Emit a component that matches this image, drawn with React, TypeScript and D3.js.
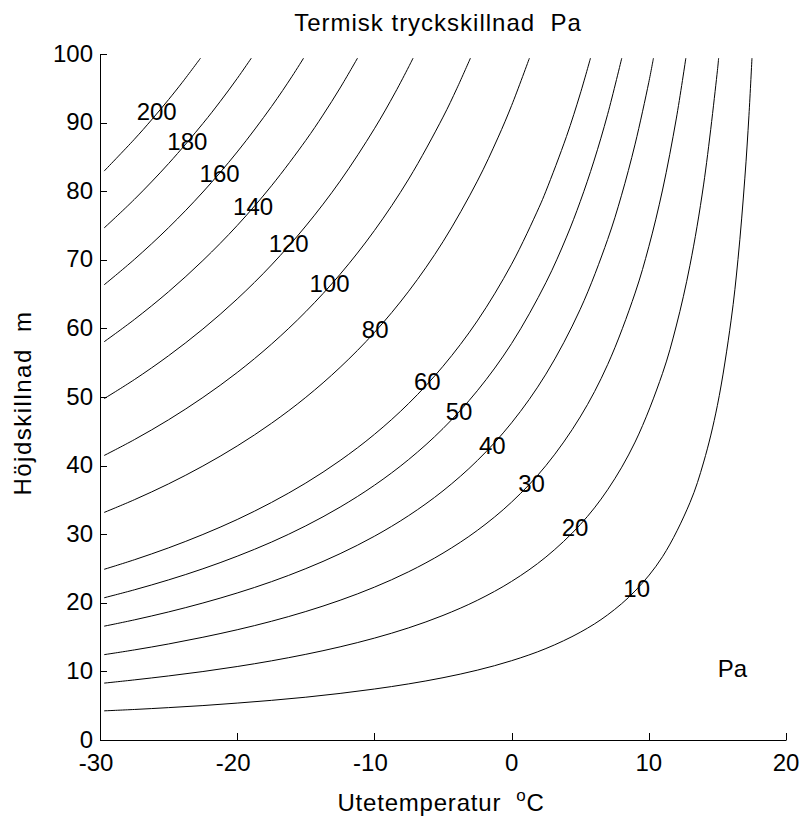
import React from "react";
import * as d3 from "d3";

const levels = [10, 20, 30, 40, 50, 60, 80, 100, 120, 140, 160, 180, 200];

const contour10 = [[-29.7,4.25],[-27.5,4.45],[-25,4.72],[-22.5,5.02],[-20,5.38],[-17.5,5.78],[-15,6.24],[-12.5,6.79],[-10,7.43],[-7.5,8.18],[-5,9.08],[-2.5,10.18],[0,11.56],[2.5,13.33],[5,15.7],[7,18.24],[9,21.72],[11,26.72],[13,34.6],[14,40.52],[15,48.78],[16,61.2],[16.5,70.05],[17,81.9],[17.3,91.07],[17.52,99.4]];
const contour20 = [[-29.7,8.29],[-27.5,8.76],[-25,9.34],[-22.5,9.98],[-20,10.71],[-17.5,11.54],[-15,12.49],[-12.5,13.58],[-10,14.85],[-7.5,16.35],[-5,18.16],[-2.5,20.36],[0,23.12],[2.5,26.67],[5,31.39],[7,36.48],[9,43.43],[11,53.45],[12,60.35],[13,69.2],[14,81.04],[15,97.56],[15.09,99.4]];
const contour30 = [[-29.7,12.44],[-27.5,13.13],[-25,14.0],[-22.5,14.98],[-20,16.07],[-17.5,17.31],[-15,18.73],[-12.5,20.37],[-10,22.28],[-7.5,24.53],[-5,27.24],[-2.5,30.55],[0,34.68],[2.5,40.0],[5,47.09],[7,54.72],[9,65.15],[10,71.91],[11,80.17],[12,90.53],[12.7,99.4]];
const contour40 = [[-29.7,16.59],[-27.5,17.51],[-25,18.67],[-22.5,19.97],[-20,21.43],[-17.5,23.08],[-15,24.98],[-12.5,27.16],[-10,29.7],[-7.5,32.71],[-5,36.32],[-2.5,40.73],[0,46.24],[2.5,53.33],[5,62.78],[7,72.96],[8,79.33],[9,86.86],[10,95.88],[10.34,99.4]];
const contour50 = [[-29.7,20.73],[-27.5,21.89],[-25,23.34],[-22.5,24.96],[-20,26.79],[-17.5,28.85],[-15,31.22],[-12.5,33.95],[-10,37.13],[-7.5,40.89],[-5,45.4],[-2.5,50.91],[0,57.8],[2.5,66.67],[4,73.31],[5,78.48],[6,84.39],[7,91.21],[8.03,99.4]];
const contour60 = [[-29.7,24.88],[-27.5,26.27],[-25,28.01],[-22.5,29.96],[-20,32.14],[-17.5,34.63],[-15,37.46],[-12.5,40.74],[-10,44.55],[-7.5,49.06],[-5,54.48],[-2.5,61.09],[0,69.36],[2,77.64],[2.5,80.0],[4,87.98],[5,94.18],[5.75,99.4]];
const contour80 = [[-29.7,33.17],[-27.5,35.02],[-25,37.34],[-22.5,39.94],[-20,42.86],[-17.5,46.17],[-15,49.95],[-12.5,54.32],[-10,59.4],[-7.5,65.42],[-5,72.64],[-2.5,81.46],[-1,87.77],[0,92.49],[1.3,99.4]];
const contour100 = [[-29.7,41.47],[-27.5,43.78],[-25,46.68],[-22.5,49.93],[-20,53.57],[-17.5,57.71],[-15,62.44],[-12.5,67.89],[-10,74.26],[-7.5,81.77],[-5,90.8],[-4,94.93],[-3.0,99.4]];
const contour120 = [[-29.7,49.76],[-27.5,52.53],[-25,56.02],[-22.5,59.91],[-20,64.29],[-17.5,69.25],[-15,74.93],[-12.5,81.47],[-10,89.11],[-8.5,94.33],[-7.5,98.13],[-7.18,99.4]];
const contour140 = [[-29.7,58.05],[-27.5,61.29],[-25,65.35],[-22.5,69.9],[-20,75.0],[-17.5,80.79],[-15,87.41],[-13.75,91.09],[-12.5,95.05],[-11.23,99.4]];
const contour160 = [[-29.7,66.35],[-27.5,70.05],[-25,74.69],[-22.5,79.88],[-20,85.72],[-17.5,92.34],[-16,96.75],[-15.16,99.4]];
const contour180 = [[-29.7,74.64],[-27.5,78.8],[-25,84.03],[-22.5,89.87],[-21.25,93.05],[-20,96.43],[-18.97,99.4]];
const contour200 = [[-29.7,82.93],[-27.5,87.56],[-26.25,90.38],[-25,93.36],[-24,95.87],[-22.67,99.4]];

const contours = [contour10, contour20, contour30, contour40, contour50, contour60, contour80, contour100, contour120, contour140, contour160, contour180, contour200];

// label positions [x, y] for each level
const labelPos = [[9.12,22.11],[4.62,30.99],[1.46,37.41],[-1.41,42.99],[-3.83,47.9],[-6.14,52.3],[-9.94,59.9],[-13.27,66.6],[-16.25,72.4],[-18.84,77.7],[-21.28,82.6],[-23.63,87.2],[-25.87,91.6]];
const unitLabel = { text: "Pa", x: 16.1, y: 10.44 };

const xTicks = [-30, -20, -10, 0, 10, 20];
const yTicks = [0, 10, 20, 30, 40, 50, 60, 70, 80, 90, 100];

const title = "Termisk tryckskillnad  Pa";
const yLabel = "Höjdskillnad  m";
const xLabelMain = "Utetemperatur  ";

const W = 803, H = 816;
const left = 100, right = 786, top = 54, bottom = 740;
const FONT = "'Liberation Sans', Arial, Helvetica, sans-serif";
const FS = 24;

export default function App() {
  const x = d3.scaleLinear().domain([-30, 20]).range([left, right]);
  const y = d3.scaleLinear().domain([0, 100]).range([bottom, top]);
  const line = d3
    .line<number[]>()
    .x((d) => x(d[0]))
    .y((d) => y(d[1]))
    .curve(d3.curveCatmullRom.alpha(0.5));

  return (
    <svg
      width={W}
      height={H}
      style={{ position: "absolute", left: 0, top: 0, background: "#fff" }}
      fontFamily={FONT}
    >
      <rect x={0} y={0} width={W} height={H} fill="#fff" />
      {contours.map((c, i) => (
        <path key={i} d={line(c) || ""} fill="none" stroke="#000" strokeWidth={1} />
      ))}
      {levels.map((lv, i) => (
        <text
          key={lv}
          x={x(labelPos[i][0])}
          y={y(labelPos[i][1])}
          fontSize={FS}
          textAnchor="middle"
          dominantBaseline="central"
          fill="#000"
        >
          {lv}
        </text>
      ))}
      <text
        x={x(unitLabel.x)}
        y={y(unitLabel.y)}
        fontSize={FS}
        textAnchor="middle"
        dominantBaseline="central"
        fill="#000"
      >
        {unitLabel.text}
      </text>
      {/* axes */}
      <line x1={left + 0.5} x2={left + 0.5} y1={top} y2={bottom + 0.5} stroke="#000" strokeWidth={1} />
      <line x1={left} x2={right + 0.5} y1={bottom + 0.5} y2={bottom + 0.5} stroke="#000" strokeWidth={1} />
      {xTicks.map((t) => (
        <g key={"x" + t}>
          <line
            x1={Math.round(x(t)) + 0.5}
            x2={Math.round(x(t)) + 0.5}
            y1={bottom}
            y2={bottom - 7}
            stroke="#000"
          />
          <text
            x={x(t) - (t < 0 ? 4 : 0)}
            y={771}
            fontSize={FS}
            textAnchor="middle"
            fill="#000"
          >
            {t}
          </text>
        </g>
      ))}
      {yTicks.map((t) => (
        <g key={"y" + t}>
          <line
            x1={left}
            x2={left + 7}
            y1={Math.round(y(t)) + 0.5}
            y2={Math.round(y(t)) + 0.5}
            stroke="#000"
          />
          <text
            x={93}
            y={y(t) - 1}
            fontSize={FS}
            textAnchor="end"
            dominantBaseline="central"
            fill="#000"
          >
            {t}
          </text>
        </g>
      ))}
      <text
        x={438}
        y={31}
        fontSize={FS}
        textAnchor="middle"
        letterSpacing={1}
        style={{ whiteSpace: "pre" }}
        fill="#000"
      >
        {title}
      </text>
      <text
        transform={`translate(31, 403) rotate(-90)`}
        fontSize={FS}
        textAnchor="middle"
        letterSpacing={1.5}
        style={{ whiteSpace: "pre" }}
        fill="#000"
      >
        {yLabel}
      </text>
      <text
        x={441}
        y={811}
        fontSize={FS}
        textAnchor="middle"
        letterSpacing={0.8}
        style={{ whiteSpace: "pre" }}
        fill="#000"
      >
        {xLabelMain}
        <tspan dy={-10} fontSize={17}>o</tspan>
        <tspan dy={10}>C</tspan>
      </text>
    </svg>
  );
}
